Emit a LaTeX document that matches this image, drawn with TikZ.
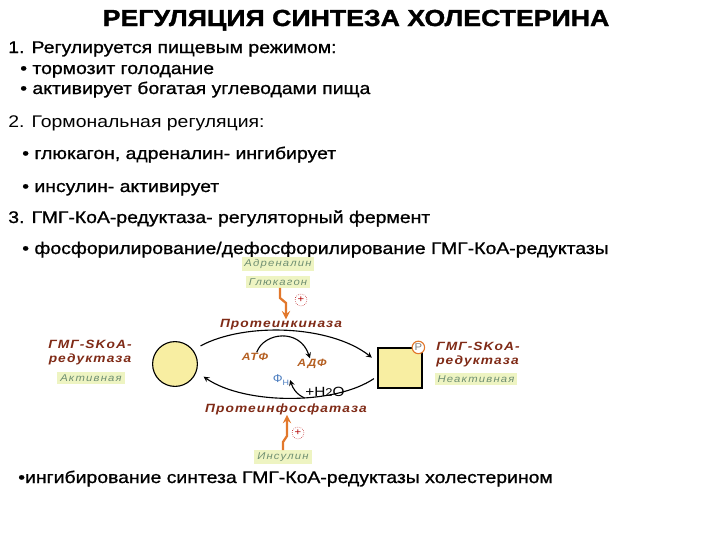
\documentclass[tikz,border=0pt]{standalone}
\usepackage{fontspec}
\setmainfont{Liberation Sans}[FakeStretch=1.15]
\newfontfamily\titlefont{Liberation Sans}[FakeStretch=1.15,FakeBold=1.5]
\newfontfamily\medfont{Liberation Sans}[FakeStretch=1.15,FakeBold=1]
\newfontfamily\spacedfont{Liberation Sans}[FakeStretch=1.15,LetterSpace=9]
\newfontfamily\labelfont{Liberation Sans}[FakeStretch=1.15,LetterSpace=12]
\usetikzlibrary{positioning}
\definecolor{enzred}{HTML}{7F2A16}
\definecolor{labgreen}{HTML}{6F8F72}
\definecolor{labbg}{HTML}{EEF4C2}
\definecolor{boltorange}{HTML}{E2782C}
\definecolor{ballyellow}{HTML}{F8EEA2}
\definecolor{fnblue}{HTML}{4C7DBF}

\begin{document}
\begin{tikzpicture}[
    x=0.025cm,y=-0.025cm,
    line/.style={%
      anchor=base west,
      inner sep=0pt,
      font=\medfont\fontsize{12}{14}\selectfont,
    },
    enzyme/.style={%
      text=enzred,
      inner sep=0pt,
      font=\spacedfont\bfseries\itshape\fontsize{8.5}{10}\selectfont,
    },
    state/.style={%
      fill=labbg,
      text=labgreen,
      inner xsep=2pt,
      inner ysep=1.5pt,
      font=\labelfont\itshape\fontsize{7}{8}\selectfont,
    },
    small/.style={%
      inner sep=0.5pt,
      font=\spacedfont\bfseries\itshape\fontsize{7.5}{9}\selectfont,
    },
    arc/.style={%
      draw,
      thick,
      -stealth,
    },
    bolt/.style={%
      draw=boltorange,
      line width=1.6pt,
      -stealth,
    },
    plus/.style={%
      draw=red!70!black,
      densely dotted,
      circle,
      inner sep=0.8pt,
      text=red!70!black,
      font=\fontsize{7}{7}\selectfont,
    },
  ]

    \useasboundingbox (0,0) rectangle (720,540);

    \node [anchor=base,inner sep=0pt,font=\titlefont\bfseries\fontsize{16.5}{18}\selectfont] (title) at (356,26) {РЕГУЛЯЦИЯ СИНТЕЗА ХОЛЕСТЕРИНА};
    \node [line] (l1) at (8,53) {1. Регулируется пищевым режимом:};
    \node [line] (l2) at (20,74) {• тормозит голодание};
    \node [line] (l3) at (20,94) {• активирует богатая углеводами пища};
    \node [line,font=\fontsize{12}{14}\selectfont] (l4) at (8,127) {2. Гормональная регуляция:};
    \node [line] (l5) at (22,159) {• глюкагон, адреналин- ингибирует};
    \node [line] (l6) at (22,192) {• инсулин- активирует};
    \node [line] (l7) at (8,223) {3. ГМГ-КоА-редуктаза- регуляторный фермент};
    \node [line] (l8) at (22,254) {• фосфорилирование/дефосфорилирование ГМГ-КоА-редуктазы};
    \node [line] (l9) at (18,483) {•ингибирование синтеза ГМГ-КоА-редуктазы холестерином};

    \node [draw,thick,circle,fill=ballyellow,minimum size=1.12cm] (ball) at (175,364) {};
    \node [draw,thick,fill=ballyellow,minimum width=1.1cm,minimum height=1cm] (box) at (400,368) {};
    \node [draw=boltorange,thick,circle,fill=white,text=gray,inner sep=0.6pt,font=\fontsize{7}{7}\selectfont] (phos) at ([xshift=-3pt]box.north east) {P};

    \node [enzyme,align=center] (actName) at (90,353) {ГМГ-SKoA-\\редуктаза};
    \node [state] (act) at (91,378) {Активная};
    \node [enzyme,align=left] (inactName) at (478,355) {ГМГ-SKoA-\\редуктаза};
    \node [state] (inact) at (476,379) {Неактивная};

    \node [state] (adr) at (278,264) {Адреналин};
    \node [state] (glu) at (278,282) {Глюкагон};
    \node [enzyme] (kinase) at (281,325) {Протеинкиназа};
    \node [enzyme] (phosphatase) at (286,409) {Протеинфосфатаза};
    \node [state] (ins) at (283,457) {Инсулин};
    \node [plus] (plusTop) at (301,300) {+};
    \node [plus] (plusBot) at (298,433) {+};

    \node [small,text=boltorange!80!black] (atp) at (255,357) {АТФ};
    \node [small,text=boltorange!80!black] (adp) at (312,364) {АДФ};
    \node [small,text=fnblue,font=\fontsize{8}{9}\selectfont] (pn) at (281,380) {Ф\raisebox{-2pt}{\fontsize{5.5}{6}\selectfont Н}};
    \node [inner sep=0.5pt,font=\fontsize{9.5}{11}\selectfont] (water) at (325,392) {+H{\fontsize{8}{9}\selectfont 2}O};

    \draw [arc,shorten <=6pt,shorten >=5pt] (ball.38) .. controls (245,322) and (330,325) .. (box.165);
    \draw [arc,shorten <=3pt,shorten >=6pt] (box.200) .. controls (335,405) and (245,405) .. (ball.-20);
    \draw [arc] (atp.70) .. controls (264,332) and (300,328) .. (adp.110);
    \draw [arc] (water.south west) .. controls (305,398) and (295,395) .. (pn.east);

    \draw [bolt] (glu.south -| 280,0) -- (280,298) -- (286,303) -- (kinase.north -| 286,0);
    \draw [bolt] (ins.north -| 283,0) -- (283,442) -- (287,436) -- (phosphatase.south -| 287,0);
    \end{tikzpicture}
\end{document}
